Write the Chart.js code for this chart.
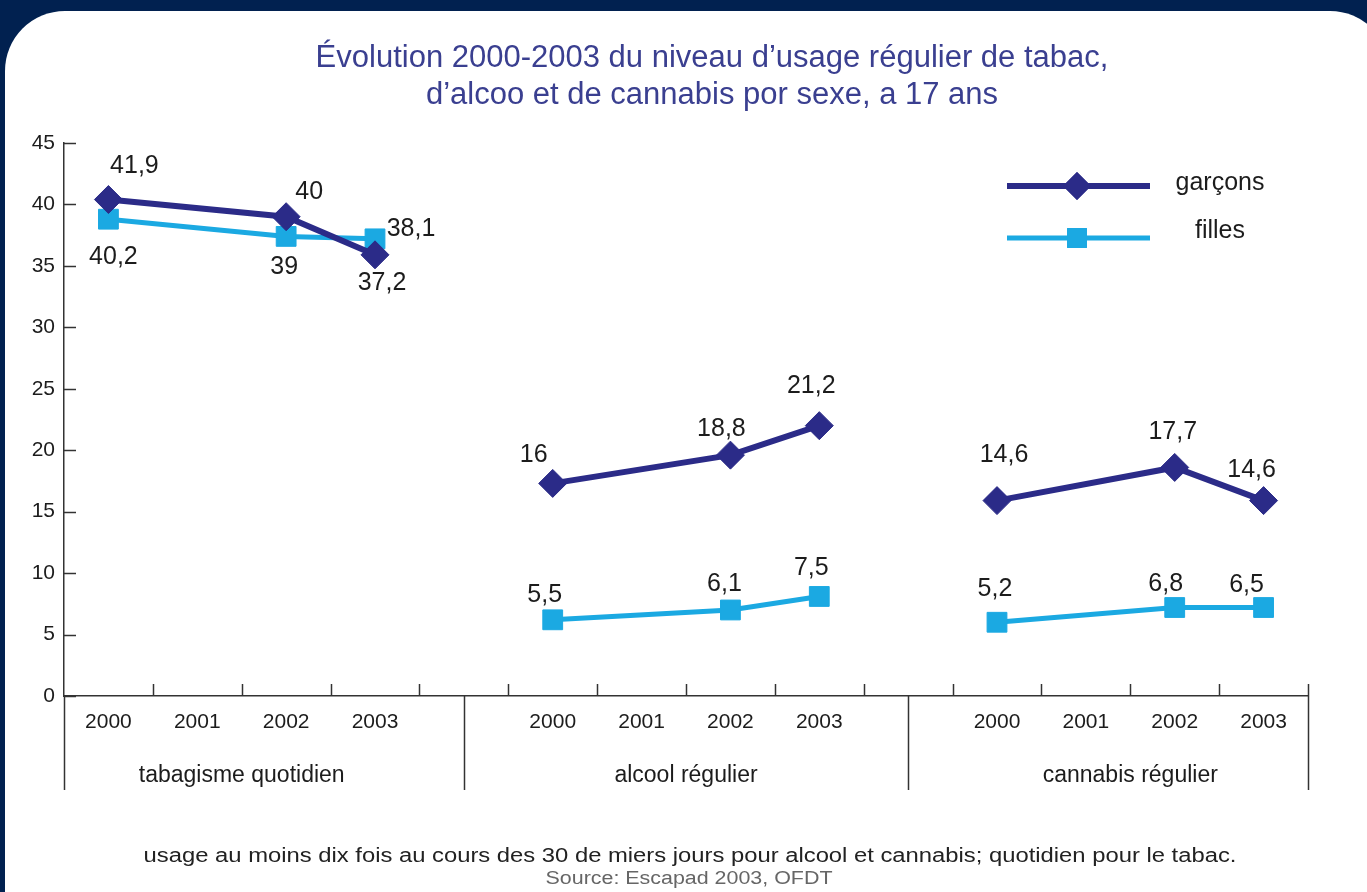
<!DOCTYPE html>
<html><head><meta charset="utf-8">
<script src="https://cdn.jsdelivr.net/npm/chart.js@4/dist/chart.umd.min.js"></script>
<style>
html,body{margin:0;padding:0;background:#012150;overflow:hidden;}
#wrap{position:absolute;left:0;top:0;width:1367px;height:892px;overflow:hidden;background:#012150;}
#card{position:absolute;left:5px;top:11px;width:1385px;height:950px;background:#fff;border-radius:60px;}
canvas{position:absolute;left:0;top:0;}
</style></head>
<body>
<div id="wrap"><div id="card"></div><canvas id="c" width="1367" height="892"></canvas></div>
<script>
// ---- data ----
const categories = ['2000','2001','2002','2003','', '2000','2001','2002','2003','', '2000','2001','2002','2003'];
const groups = ['tabagisme quotidien', 'alcool régulier', 'cannabis régulier'];
const yTickValues = [0, 5, 10, 15, 20, 25, 30, 35, 40, 45];
const seriesNames = ['garçons', 'filles'];
// plotted positions (as drawn in the picture)
const garcons = [40.4, null, 39.0, 35.9, null, 17.3, null, 19.6, 22.0, null, 15.9, null, 18.6, 15.9];
const filles  = [38.8, null, 37.4, 37.2, null, 6.2, null, 7.0, 8.1, null, 6.0, null, 7.2, 7.2];
// printed value labels
const garconsLabels = ['41,9', '', '40', '37,2', '', '16', '', '18,8', '21,2', '', '14,6', '', '17,7', '14,6'];
const fillesLabels  = ['40,2', '', '39', '38,1', '', '5,5', '', '6,1', '7,5', '', '5,2', '', '6,8', '6,5'];
const titleLines = ['Évolution 2000-2003 du niveau d’usage régulier de tabac,', 'd’alcoo et de cannabis por sexe, a 17 ans'];
const footnote = 'usage au moins dix fois au cours des 30 de miers jours pour alcool et cannabis; quotidien pour le tabac.';
const sourceText = 'Source: Escapad 2003, OFDT';

// ---- styles / positions ----
const FONT = '"Liberation Sans", Arial, Helvetica, sans-serif';
const NAVY = '#2b2b88', CYAN = '#1ba9e2', TXT = '#1c1c1c', AXIS = '#333333';
const gOff = [[26,-33],null,[23,-25],[7,28],null,[-19,-28],null,[-9,-26],[-8,-40],null,[7,-45],null,[-2,-35],[-12,-30]];
const fOff = [[5,38],null,[-2,31],[36,-10],null,[-8,-25],null,[-6,-26],[-8,-28],null,[-2,-33],null,[-9,-23],[-17,-22]];

function segColor(col){
  return ctx => (ctx.p1DataIndex % 5 === 0) ? 'rgba(0,0,0,0)' : col;
}

function stretchText(c, txt, x, y, sx){
  c.save(); c.translate(x, y); c.scale(sx, 1); c.fillText(txt, 0, 0); c.restore();
}

const decor = {
  id: 'decor',
  afterDraw(chart){
    const c = chart.ctx, a = chart.chartArea;
    const xs = chart.scales.x, ys = chart.scales.y;
    const n = categories.length, w = (a.right - a.left) / n;
    c.save();
    c.strokeStyle = AXIS; c.lineWidth = 1.5;
    for (let i = 1; i <= n; i++) {
      const x = Math.round(a.left + i * w) + 0.5;
      c.beginPath(); c.moveTo(x, a.bottom); c.lineTo(x, a.bottom - 12); c.stroke();
    }
    const seps = [a.left, xs.getPixelForValue(4), xs.getPixelForValue(9), a.right];
    seps.forEach(x => { x = Math.round(x) + 0.5; c.beginPath(); c.moveTo(x, a.bottom); c.lineTo(x, 790); c.stroke(); });
    yTickValues.forEach(v => {
      const y = Math.round(ys.getPixelForValue(v)) + 0.5;
      c.beginPath(); c.moveTo(a.left, y); c.lineTo(a.left + 12, y); c.stroke();
    });
    c.fillStyle = TXT; c.font = '23px ' + FONT; c.textAlign = 'center'; c.textBaseline = 'middle';
    groups.forEach((g, k) => {
      const x0 = xs.getPixelForValue(k * 5), x1 = xs.getPixelForValue(k * 5 + 3);
      c.fillText(g, (x0 + x1) / 2, 776);
    });
    c.font = '25px ' + FONT;
    [[0, garconsLabels, gOff], [1, fillesLabels, fOff]].forEach(([di, labs, offs]) => {
      const meta = chart.getDatasetMeta(di);
      meta.data.forEach((pt, i) => {
        if (!labs[i] || !offs[i]) return;
        c.fillText(labs[i], pt.x + offs[i][0], pt.y + offs[i][1]);
      });
    });
    const leg = [[NAVY, 6, 'rectRot', 186, 183], [CYAN, 5, 'rect', 238, 231]];
    leg.forEach(([col, lw, ps, ly, ty], k) => {
      c.strokeStyle = col; c.lineWidth = lw;
      c.beginPath(); c.moveTo(1007, ly); c.lineTo(1150, ly); c.stroke();
      c.fillStyle = col;
      Chart.helpers.drawPoint(c, {pointStyle: ps, radius: 14, borderWidth: 0, rotation: 0}, 1077, ly);
      c.fill();
      c.fillStyle = TXT; c.font = '25px ' + FONT; c.textAlign = 'center';
      c.fillText(seriesNames[k], 1220, ty);
    });
    c.fillStyle = '#3a3f90'; c.font = '31px ' + FONT; c.textAlign = 'center';
    c.fillText(titleLines[0], 712, 58);
    c.fillText(titleLines[1], 712, 95);
    c.fillStyle = '#222'; c.font = '20px ' + FONT;
    stretchText(c, footnote, 690, 856, 1.19);
    c.fillStyle = '#666'; c.font = '18px ' + FONT;
    stretchText(c, sourceText, 689, 879, 1.19);
    c.restore();
  }
};

new Chart(document.getElementById('c').getContext('2d'), {
  type: 'line',
  data: {
    labels: categories,
    datasets: [
      { label: seriesNames[0], data: garcons, borderColor: NAVY, backgroundColor: NAVY,
        pointBackgroundColor: NAVY, pointBorderColor: NAVY, pointBorderWidth: 1,
        borderWidth: 6, pointStyle: 'rectRot', pointRadius: 14, pointHoverRadius: 14,
        spanGaps: true, tension: 0, segment: { borderColor: segColor(NAVY) } },
      { label: seriesNames[1], data: filles, borderColor: CYAN, backgroundColor: CYAN,
        pointBackgroundColor: CYAN, pointBorderColor: CYAN, pointBorderWidth: 1,
        borderWidth: 5, pointStyle: 'rect', pointRadius: 14, pointHoverRadius: 14,
        spanGaps: true, tension: 0, segment: { borderColor: segColor(CYAN) } }
    ]
  },
  options: {
    responsive: false, animation: false, events: [],
    layout: { padding: { left: 0, right: 59, top: 143, bottom: 0 } },
    plugins: { legend: { display: false }, tooltip: { enabled: false }, title: { display: false } },
    scales: {
      x: { offset: true,
        grid: { display: false, drawTicks: false },
        border: { display: true, color: AXIS, width: 1.5 },
        ticks: { font: { family: FONT, size: 21 }, color: TXT, padding: 14, autoSkip: false, maxRotation: 0 },
        afterFit(s){ s.height = 196; } },
      y: { min: 0, max: 45,
        afterBuildTicks(s){ s.ticks = yTickValues.map(v => ({ value: v })); },
        grid: { display: false, drawTicks: false },
        border: { display: true, color: AXIS, width: 1.5 },
        ticks: { font: { family: FONT, size: 21 }, color: TXT, padding: 9 },
        afterFit(s){ s.width = 64; } }
    }
  },
  plugins: [decor]
});
</script>
</body></html>
